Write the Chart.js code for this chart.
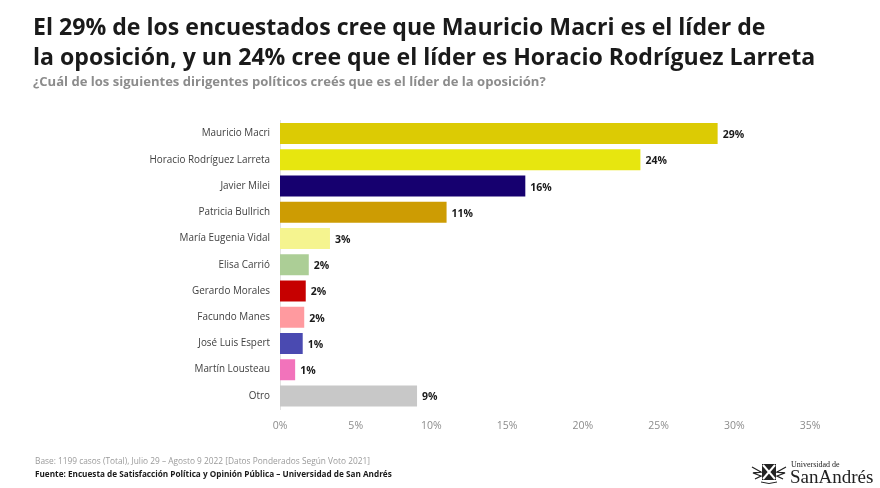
<!DOCTYPE html>
<html>
<head>
<meta charset="utf-8">
<style>
html, body { margin: 0; padding: 0; background: #fff; }
body { width: 880px; height: 488px; position: relative; overflow: hidden; font-family: "Open Sans", sans-serif; }
.txt { position: absolute; white-space: nowrap; }
#title { left: 33px; top: 11px; font-size: 23.1px; line-height: 30px; font-weight: 700; color: #1a1a1a; }
#subtitle { left: 33px; top: 72px; font-size: 13.07px; line-height: 18px; font-weight: 700; color: #8c8c8c; }
#base { left: 35px; top: 455px; font-size: 8.33px; line-height: 12px; color: #9a9a9a; }
#fuente { left: 35px; top: 468px; font-size: 8.2px; line-height: 12px; font-weight: 700; color: #1a1a1a; }
#logo1 { left: 791px; top: 460px; font-family: "Liberation Serif", serif; font-size: 8px; line-height: 9px; color: #222; }
#logo2 { left: 790px; top: 469px; font-family: "Liberation Serif", serif; font-size: 19px; line-height: 16px; color: #222; }
#crest { position: absolute; left: 751px; top: 463px; }
canvas { position: absolute; left: 0; top: 0; }
</style>
</head>
<body>
<canvas id="myChart" width="880" height="488"></canvas>
<div class="txt" id="title">El 29% de los encuestados cree que Mauricio Macri es el líder de<br>la oposición, y un 24% cree que el líder es Horacio Rodríguez Larreta</div>
<div class="txt" id="subtitle">¿Cuál de los siguientes dirigentes políticos creés que es el líder de la oposición?</div>
<div class="txt" id="base">Base: 1199 casos (Total), Julio 29 – Agosto 9 2022 [Datos Ponderados Según Voto 2021]</div>
<div class="txt" id="fuente">Fuente: Encuesta de Satisfacción Política y Opinión Pública – Universidad de San Andrés</div>
<svg id="crest" width="36" height="22" viewBox="0 0 36 22">
  <rect x="11" y="1" width="14" height="16" fill="#222"/>
  <path d="M12 2 L24 16 M24 2 L12 16" stroke="#fff" stroke-width="2"/>
  <path d="M1 4 L10 9 L2 10 L10 13 L4 16 M35 4 L26 9 L34 10 L26 13 L32 16" stroke="#222" stroke-width="1.3" fill="none"/>
  <path d="M10 19 Q18 22 26 19" stroke="#222" stroke-width="1" fill="none"/>
</svg>
<div class="txt" id="logo1">Universidad de</div>
<div class="txt" id="logo2">SanAndrés</div>
<script src="https://cdn.jsdelivr.net/npm/chart.js@4"></script>
<script>
const categories = [
    "Mauricio Macri", "Horacio Rodríguez Larreta", "Javier Milei", "Patricia Bullrich",
    "María Eugenia Vidal", "Elisa Carrió", "Gerardo Morales", "Facundo Manes",
    "José Luis Espert", "Martín Lousteau", "Otro",
];
const values = [28.9, 23.8, 16.2, 11, 3.3, 1.9, 1.7, 1.6, 1.5, 1.0, 9.05];
const valueLabels = ["29%", "24%", "16%", "11%", "3%", "2%", "2%", "2%", "1%", "1%", "9%"];
const barColors = [
    "#dccb04", "#e7e60f", "#16006f", "#cd9c03", "#f5f48f", "#acce96",
    "#c60000", "#ff9a9f", "#4a4ab1", "#f273bb", "#c8c8c8",
];

const barLabels = {
    id: "barLabels",
    afterDatasetsDraw(chart) {
        const c = chart.ctx;
        c.save();
        c.font = "700 10.5px 'Open Sans'";
        c.fillStyle = "#1a1a1a";
        c.textAlign = "left";
        c.textBaseline = "middle";
        chart.getDatasetMeta(0).data.forEach((bar, i) => {
            c.fillText(valueLabels[i], bar.x + 5, bar.y + 1.5);
        });
        c.restore();
    },
};

new Chart(document.getElementById("myChart"), {
    type: "bar",
    data: {
        labels: categories,
        datasets: [
            {
                data: values,
                backgroundColor: barColors,
                categoryPercentage: 1,
                barPercentage: 0.8,
            },
        ],
    },
    options: {
        indexAxis: "y",
        responsive: false,
        animation: false,
        layout: { padding: { top: 120.5, right: 70, bottom: 0, left: 0 } },
        plugins: { legend: { display: false }, tooltip: { enabled: false } },
        scales: {
            x: {
                min: 0,
                max: 35,
                afterFit(scale) { scale.height = 79; },
                grid: { display: false },
                border: { display: false },
                ticks: {
                    stepSize: 5,
                    maxRotation: 0,
                    padding: 3,
                    color: "#8c8c8c",
                    font: { family: "'Open Sans'", size: 10.5 },
                    callback: (v) => v + "%",
                },
            },
            y: {
                afterFit(scale) { scale.width = 280; },
                grid: { display: false },
                border: { display: true, color: "#e2e2e2" },
                ticks: {
                    padding: 2,
                    color: "#404040",
                    font: { family: "'Open Sans'", size: 9.9 },
                },
            },
        },
    },
    plugins: [barLabels],
});
</script>
</body>
</html>
